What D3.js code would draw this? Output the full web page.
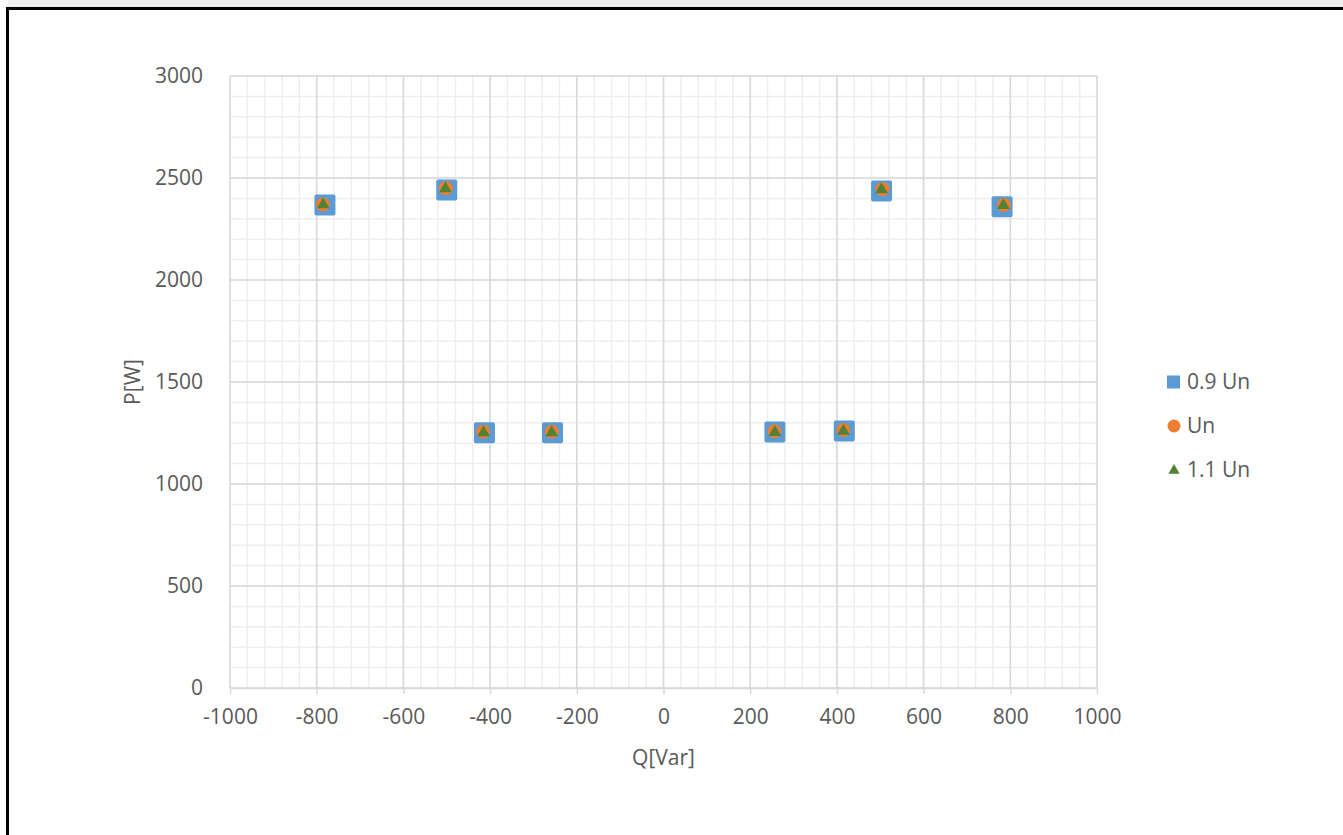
<!DOCTYPE html>
<html>
<head>
<meta charset="utf-8">
<script src="https://cdn.jsdelivr.net/npm/d3@7"></script>
<style>
  body { margin: 0; background: #fff; }
  svg { display: block; }
  text { font-family: "Open Sans", sans-serif; fill: #595959; }
</style>
</head>
<body>
<svg id="chart" width="1343" height="835"></svg>
<script>
// series values (Q in Var, P in W)
const seriesNames = ["0.9 Un", "Un", "1.1 Un"];
const qLow  = [-781, -500, -413, -256, 257, 417, 503, 781];
const pLow  = [2368, 2441, 1251, 1251, 1255, 1260, 2436, 2359];
const qNom  = [-786, -502, -416, -258, 256, 415, 505, 785];
const pNom  = [2370, 2450, 1256, 1256, 1258, 1265, 2445, 2368];
const qHigh = [-785, -503, -415, -258, 257, 415, 503, 784];
const pHigh = [2372, 2450, 1254, 1254, 1256, 1262, 2446, 2368];

const xTicks = [-1000, -800, -600, -400, -200, 0, 200, 400, 600, 800, 1000];
const yTicks = [0, 500, 1000, 1500, 2000, 2500, 3000];

const colors = ["#5b9bd5", "#ed7d31", "#548235"];
const fontSize = "21px";

const svg = d3.select("#chart");

// frame pieces from the screenshot: grey strip, black borders
svg.append("rect").attr("x", 8).attr("y", 0).attr("width", 1335).attr("height", 8).attr("fill", "#f0f0f0");
svg.append("line").attr("x1", 6).attr("x2", 1343).attr("y1", 8.5).attr("y2", 8.5)
  .attr("stroke", "#000").attr("stroke-width", 3);
svg.append("line").attr("x1", 7.5).attr("x2", 7.5).attr("y1", 7).attr("y2", 835)
  .attr("stroke", "#000").attr("stroke-width", 3);

const x = d3.scaleLinear().domain([-1000, 1000]).range([230, 1097]);
const y = d3.scaleLinear().domain([0, 3000]).range([688, 76]);

const grid = svg.append("g");

// minor grid
const xMinor = d3.range(-1000, 1000 + 1, 40);
const yMinor = d3.range(0, 3000 + 1, 100);
grid.selectAll("line.xminor").data(xMinor).enter().append("line")
  .attr("class", "xminor")
  .attr("x1", d => x(d)).attr("x2", d => x(d))
  .attr("y1", y(0)).attr("y2", y(3000))
  .attr("stroke", "#eeeeee").attr("stroke-width", 1.5);
grid.selectAll("line.yminor").data(yMinor).enter().append("line")
  .attr("class", "yminor")
  .attr("x1", x(-1000)).attr("x2", x(1000))
  .attr("y1", d => y(d)).attr("y2", d => y(d))
  .attr("stroke", "#eeeeee").attr("stroke-width", 1.5);

// major grid
grid.selectAll("line.xmajor").data(xTicks).enter().append("line")
  .attr("class", "xmajor")
  .attr("x1", d => x(d)).attr("x2", d => x(d))
  .attr("y1", y(0)).attr("y2", y(3000))
  .attr("stroke", "#d9d9d9").attr("stroke-width", 1.5);
grid.selectAll("line.ymajor").data(yTicks).enter().append("line")
  .attr("class", "ymajor")
  .attr("x1", x(-1000)).attr("x2", x(1000))
  .attr("y1", d => y(d)).attr("y2", d => y(d))
  .attr("stroke", "#d9d9d9").attr("stroke-width", 1.5);

// x axis
const xAxis = svg.append("g")
  .attr("transform", `translate(0,${y(0)})`)
  .call(d3.axisBottom(x).tickValues(xTicks).tickFormat(d => String(d))
    .tickSize(6).tickPadding(15).tickSizeOuter(0));
xAxis.select(".domain").attr("stroke", "#d9d9d9").attr("stroke-width", 1.5);
xAxis.selectAll(".tick line").attr("stroke", "#d9d9d9").attr("stroke-width", 1.5);
xAxis.selectAll("text").style("font-family", "Open Sans").style("font-size", fontSize).attr("fill", "#595959");

// y axis
const yAxis = svg.append("g")
  .attr("transform", `translate(${x(-1000)},0)`)
  .call(d3.axisLeft(y).tickValues(yTicks).tickFormat(d => String(d)).tickSize(0).tickPadding(27));
yAxis.select(".domain").remove();
yAxis.selectAll("text").style("font-family", "Open Sans").style("font-size", fontSize).attr("fill", "#595959");

// axis titles
svg.append("text").attr("x", x(0)).attr("y", 765)
  .attr("text-anchor", "middle").style("font-size", fontSize).text("Q[Var]");
svg.append("text")
  .attr("transform", `translate(140,${(y(0) + y(3000)) / 2}) rotate(-90)`)
  .attr("text-anchor", "middle").style("font-size", fontSize).text("P[W]");

// markers
const low = qLow.map((q, i) => ({ q, p: pLow[i] }));
const nom = qNom.map((q, i) => ({ q, p: pNom[i] }));
const high = qHigh.map((q, i) => ({ q, p: pHigh[i] }));

const marks = svg.append("g");
marks.selectAll("rect.low").data(low).enter().append("rect")
  .attr("class", "low")
  .attr("x", d => x(d.q) - 10.5).attr("y", d => y(d.p) - 10.5)
  .attr("width", 21).attr("height", 21).attr("rx", 2)
  .attr("fill", colors[0]);
marks.selectAll("circle.nom").data(nom).enter().append("circle")
  .attr("class", "nom")
  .attr("cx", d => x(d.q)).attr("cy", d => y(d.p)).attr("r", 7)
  .attr("fill", colors[1]);
const tri = d3.symbol().type(d3.symbolTriangle).size(70);
marks.selectAll("path.high").data(high).enter().append("path")
  .attr("class", "high")
  .attr("d", tri)
  .attr("transform", d => `translate(${x(d.q)},${y(d.p) + 0.5})`)
  .attr("fill", colors[2]);

// legend
const legY = [382, 426, 470];
const leg = svg.append("g");
seriesNames.forEach((name, i) => {
  const cy = legY[i];
  if (i === 0) {
    leg.append("rect").attr("x", 1167).attr("y", cy - 6.5).attr("width", 13).attr("height", 13).attr("fill", colors[0]);
  } else if (i === 1) {
    leg.append("circle").attr("cx", 1174).attr("cy", cy).attr("r", 6.5).attr("fill", colors[1]);
  } else {
    leg.append("path").attr("d", d3.symbol().type(d3.symbolTriangle).size(55))
      .attr("transform", `translate(1174,${cy + 0.5})`).attr("fill", colors[2]);
  }
  leg.append("text").attr("x", 1187).attr("y", cy).attr("dy", "0.35em")
    .style("font-size", fontSize).text(name);
});
</script>
</body>
</html>
